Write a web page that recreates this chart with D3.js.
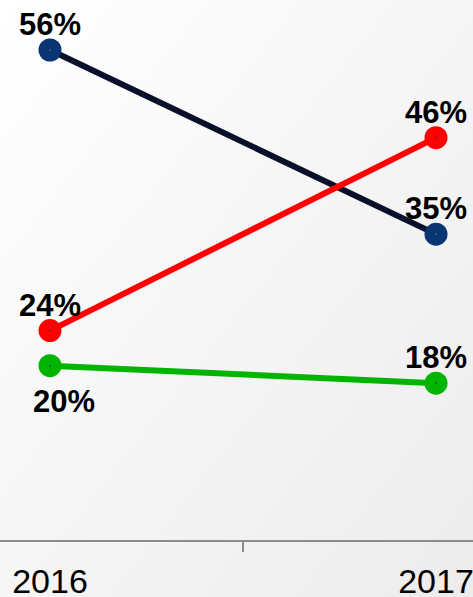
<!DOCTYPE html>
<html>
<head>
<meta charset="utf-8">
<script src="https://cdn.jsdelivr.net/npm/d3@7"></script>
<style>
  html, body { margin: 0; padding: 0; overflow: hidden; }
</style>
</head>
<body>
<div id="chart"></div>
<script>
const years = ['2016', '2017'];
const seriesNames = ['navy', 'red', 'green'];
const navyValues = [56, 35];
const redValues = [24, 46];
const greenValues = [20, 18];

const width = 473;
const height = 597;

const lineColors = { navy: '#08102a', red: '#ff0000', green: '#00b400' };
const dotColors = { navy: '#0b3473', red: '#ff0000', green: '#00b400' };
const series = [
  { name: 'navy', values: navyValues, labelPos: ['above', 'above'] },
  { name: 'red', values: redValues, labelPos: ['above', 'above'] },
  { name: 'green', values: greenValues, labelPos: ['below', 'above'] }
];

const svg = d3.select('#chart')
  .append('svg')
  .attr('width', width)
  .attr('height', height);

const grad = svg.append('defs').append('linearGradient')
  .attr('id', 'bg')
  .attr('x1', '0%').attr('y1', '0%')
  .attr('x2', '100%').attr('y2', '100%');
grad.append('stop').attr('offset', '0%').attr('stop-color', '#ffffff');
grad.append('stop').attr('offset', '100%').attr('stop-color', '#ececec');

svg.append('rect')
  .attr('width', width)
  .attr('height', height)
  .attr('fill', 'url(#bg)');

// 2016 / 2017 sit at the centre of wide bands; the tick marks the band edge
const x = d3.scalePoint().domain(years).range([50, 436]);
const y = d3.scaleLinear().domain([0, 56]).range([541, 50]);

// axis
const axis = svg.append('g').attr('transform', `translate(0,${y(0)})`);
axis.append('line')
  .attr('x1', 0).attr('x2', width)
  .attr('stroke', '#8c8c8c').attr('stroke-width', 2);
axis.append('line')
  .attr('x1', (x('2016') + x('2017')) / 2)
  .attr('x2', (x('2016') + x('2017')) / 2)
  .attr('y1', 0).attr('y2', 11)
  .attr('stroke', '#8c8c8c').attr('stroke-width', 2);
axis.selectAll('text.year')
  .data(years)
  .enter()
  .append('text')
  .attr('class', 'year')
  .attr('x', (d) => x(d))
  .attr('y', 52)
  .attr('text-anchor', 'middle')
  .style('font-family', 'Liberation Sans, Arial, sans-serif')
  .style('font-size', '34px')
  .style('fill', '#000')
  .text((d) => d);

const line = d3.line()
  .x((d, i) => x(years[i]))
  .y((d) => y(d));

svg.selectAll('path.series')
  .data(series)
  .enter()
  .append('path')
  .attr('class', 'series')
  .attr('d', (d) => line(d.values))
  .attr('fill', 'none')
  .attr('stroke', (d) => lineColors[d.name])
  .attr('stroke-width', 6);

series.forEach((s) => {
  const g = svg.append('g');
  s.values.forEach((v, i) => {
    const cx = x(years[i]);
    const cy = y(v);
    g.append('circle')
      .attr('cx', cx).attr('cy', cy).attr('r', 11.5)
      .attr('fill', dotColors[s.name]);
    g.append('circle')
      .attr('cx', cx).attr('cy', cy).attr('r', 0.8)
      .attr('fill', s.name === 'navy' ? '#1fa37a' : '#1a2a70');
    const below = s.labelPos[i] === 'below';
    g.append('text')
      .attr('x', below && i === 0 ? cx + 14 : cx)
      .attr('y', below ? cy + 46 : cy - 15)
      .attr('text-anchor', 'middle')
      .style('font-family', 'Liberation Sans, Arial, sans-serif')
      .style('font-size', '31px')
      .style('font-weight', 'bold')
      .style('fill', '#000')
      .text(v + '%');
  });
});
</script>
</body>
</html>
